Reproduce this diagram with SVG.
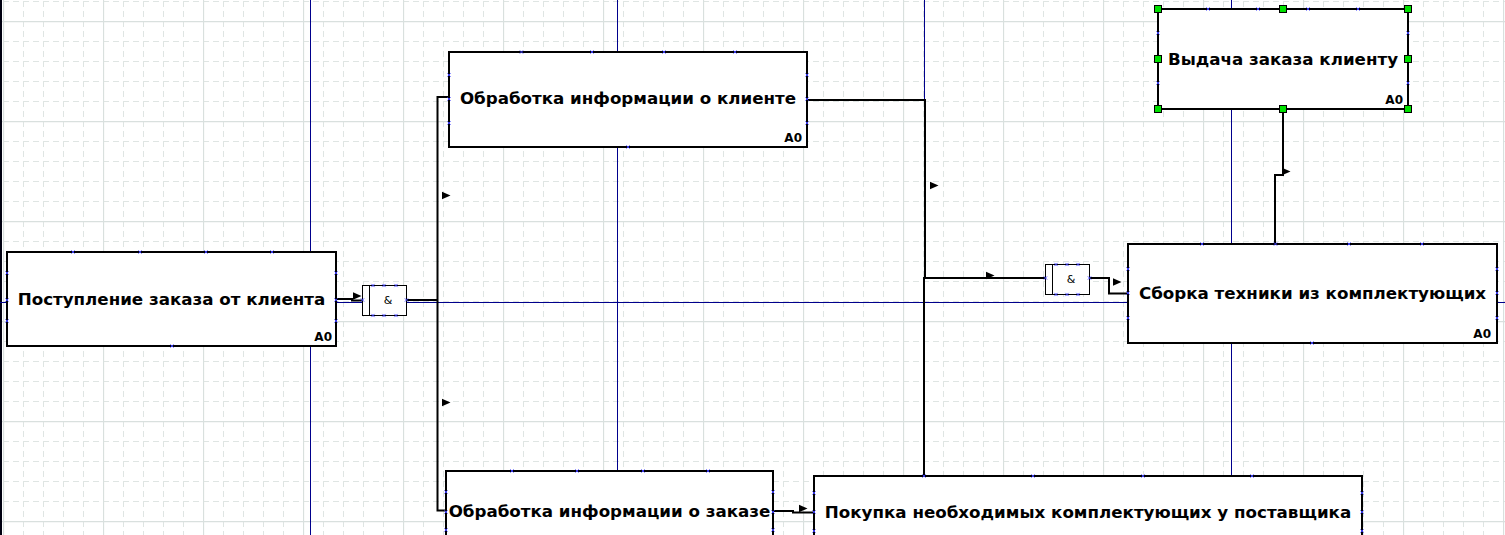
<svg xmlns="http://www.w3.org/2000/svg" xmlns:xlink="http://www.w3.org/1999/xlink" width="1505" height="535" viewBox="0 0 1505 535">
  <style>
    .box { fill: #ffffff; stroke: #000000; stroke-width: 2; }
    .jbox { fill: #ffffff; stroke: #000000; stroke-width: 1; }
    .title { font-family: "DejaVu Sans", "Noto Sans", sans-serif; font-weight: bold; font-size: 16.7px; fill: #000000; text-anchor: middle; }
    .num { font-family: "DejaVu Sans", "Noto Sans", sans-serif; font-weight: bold; font-size: 12px; fill: #000000; text-anchor: end; }
    .amp { font-family: "DejaVu Sans", "Noto Sans", sans-serif; font-size: 11px; fill: #000000; text-anchor: middle; }
    .link { fill: none; stroke: #000000; stroke-width: 2; }
    .page { stroke: #00008c; stroke-width: 1; fill: none; }
    .handle { fill: #00e000; stroke: #000000; stroke-width: 1; }
  </style>
  <defs>
    <!-- minor grid: dashed lines every 20 px -->
    <pattern id="gridMinor" patternUnits="userSpaceOnUse" x="3" y="1" width="20" height="20">
      <line x1="0.5" y1="0" x2="0.5" y2="20" stroke="#dfe5e3" stroke-width="1" stroke-dasharray="6,4"/>
      <line x1="0" y1="0.5" x2="20" y2="0.5" stroke="#dfe5e3" stroke-width="1" stroke-dasharray="6,4"/>
    </pattern>
    <!-- major grid: solid lines every 100 px -->
    <pattern id="gridMajor" patternUnits="userSpaceOnUse" x="3" y="21" width="100" height="100">
      <line x1="0.5" y1="0" x2="0.5" y2="100" stroke="#d9e0de" stroke-width="1.3"/>
      <line x1="0" y1="0.5" x2="100" y2="0.5" stroke="#d9e0de" stroke-width="1.3"/>
    </pattern>
    <!-- connection port mark -->
    <path id="port" d="M-1.6,-1.6 L1.6,1.6 M-1.6,1.6 L1.6,-1.6" stroke="#3c3cff" stroke-width="0.9" fill="none"/>
    <!-- flow arrowhead (points right) -->
    <polygon id="arrow" points="0,-3.8 0,3.8 8.5,0" fill="#000000"/>
    <!-- selection handle -->
    <rect id="grip" class="handle" x="-3.5" y="-3.5" width="7" height="7"/>
  </defs>

  <!-- canvas -->
  <rect x="0" y="0" width="1505" height="535" fill="#ffffff"/>
  <rect x="0" y="0" width="1505" height="535" fill="url(#gridMinor)"/>
  <rect x="0" y="0" width="1505" height="535" fill="url(#gridMajor)"/>
  <rect x="0" y="0" width="2" height="535" fill="#000010"/>

  <!-- page borders -->
  <g id="pages">
    <line class="page" x1="310.5" y1="0" x2="310.5" y2="535"/>
    <line class="page" x1="617.5" y1="0" x2="617.5" y2="535"/>
    <line class="page" x1="924.5" y1="0" x2="924.5" y2="535"/>
    <line class="page" x1="1231.5" y1="0" x2="1231.5" y2="535"/>
    <line class="page" x1="0" y1="302.5" x2="1505" y2="302.5"/>
  </g>

  <!-- connectors -->
  <g id="connectors">
    <path class="link" d="M336,299 H352 V300.5 H362"/>
    <path class="link" d="M407,300 H437.5"/>
    <path class="link" d="M449,97 H437.5 V510.5 H446"/>
    <path class="link" d="M807,100 H925 V278"/>
    <path class="link" d="M924,476 V278 H1046"/>
    <path class="link" d="M1089,278 H1109 V293.5 H1128"/>
    <path class="link" d="M1283,109 V175 H1275 V244"/>
    <path class="link" d="M773,511 H793 V512.5 H814"/>
    <use href="#arrow" x="353" y="296"/>
    <use href="#arrow" x="442" y="195.5"/>
    <use href="#arrow" x="442" y="402.5"/>
    <use href="#arrow" x="930" y="185.5"/>
    <use href="#arrow" x="986" y="275.5"/>
    <use href="#arrow" x="1113" y="282"/>
    <use href="#arrow" x="1282" y="171.5"/>
    <use href="#arrow" x="799" y="508.5"/>
  </g>

  <!-- process: Поступление заказа от клиента -->
  <g id="node-order-received">
    <rect class="box" x="7" y="252" width="329" height="94"/>
    <text class="title" x="171.5" y="305">Поступление заказа от клиента</text>
    <text class="num" x="332" y="341">A0</text>
    <use href="#port" x="73" y="252"/><use href="#port" x="140" y="252"/>
    <use href="#port" x="206" y="252"/><use href="#port" x="272" y="252"/>
    <use href="#port" x="7" y="273"/><use href="#port" x="7" y="300"/><use href="#port" x="7" y="321"/>
    <use href="#port" x="336" y="273"/><use href="#port" x="336" y="300"/><use href="#port" x="336" y="321"/>
    <use href="#port" x="172" y="346"/>
  </g>

  <!-- AND junction 1 -->
  <g id="junction-and-1">
    <rect class="jbox" x="362.5" y="285.5" width="44" height="30"/>
    <line x1="369.5" y1="285.5" x2="369.5" y2="315.5" stroke="#000" stroke-width="1"/>
    <text class="amp" x="388" y="304">&amp;</text>
    <use href="#port" x="373" y="285.5"/><use href="#port" x="384" y="285.5"/><use href="#port" x="396" y="285.5"/>
    <use href="#port" x="373" y="315.5"/><use href="#port" x="384" y="315.5"/><use href="#port" x="396" y="315.5"/>
    <use href="#port" x="362.5" y="300"/><use href="#port" x="406.5" y="300"/>
  </g>

  <!-- process: Обработка информации о клиенте -->
  <g id="node-client-info">
    <rect class="box" x="449" y="52" width="358" height="95"/>
    <text class="title" x="628" y="104">Обработка информации о клиенте</text>
    <text class="num" x="802" y="142">A0</text>
    <use href="#port" x="521.5" y="52"/><use href="#port" x="592" y="52"/>
    <use href="#port" x="664" y="52"/><use href="#port" x="735" y="52"/>
    <use href="#port" x="449" y="75"/><use href="#port" x="449" y="99"/><use href="#port" x="449" y="123"/>
    <use href="#port" x="807" y="75"/><use href="#port" x="807" y="99"/><use href="#port" x="807" y="123"/>
    <use href="#port" x="628" y="147"/>
  </g>

  <!-- process: Обработка информации о заказе -->
  <g id="node-order-info">
    <rect class="box" x="446" y="471" width="327" height="82"/>
    <text class="title" x="609.5" y="517">Обработка информации о заказе</text>
    <use href="#port" x="512" y="471"/><use href="#port" x="577" y="471"/>
    <use href="#port" x="643" y="471"/><use href="#port" x="708" y="471"/>
    <use href="#port" x="446" y="492"/><use href="#port" x="446" y="512"/><use href="#port" x="446" y="530"/>
    <use href="#port" x="773" y="492"/><use href="#port" x="773" y="512"/><use href="#port" x="773" y="530"/>
  </g>

  <!-- process: Покупка необходимых комплектующих у поставщика -->
  <g id="node-purchase">
    <rect class="box" x="814" y="476" width="548" height="76"/>
    <text class="title" x="1088" y="518">Покупка необходимых комплектующих у поставщика</text>
    <use href="#port" x="924" y="476"/><use href="#port" x="1033" y="476"/>
    <use href="#port" x="1143" y="476"/><use href="#port" x="1252" y="476"/>
    <use href="#port" x="814" y="493"/><use href="#port" x="814" y="512"/><use href="#port" x="814" y="531"/>
    <use href="#port" x="1362" y="493"/><use href="#port" x="1362" y="512"/><use href="#port" x="1362" y="531"/>
  </g>

  <!-- AND junction 2 -->
  <g id="junction-and-2">
    <rect class="jbox" x="1045.5" y="264.5" width="44" height="30"/>
    <line x1="1052.5" y1="264.5" x2="1052.5" y2="294.5" stroke="#000" stroke-width="1"/>
    <text class="amp" x="1071" y="282.5">&amp;</text>
    <use href="#port" x="1056" y="264.5"/><use href="#port" x="1067" y="264.5"/><use href="#port" x="1078" y="264.5"/>
    <use href="#port" x="1056" y="294.5"/><use href="#port" x="1067" y="294.5"/><use href="#port" x="1078" y="294.5"/>
    <use href="#port" x="1045.5" y="278"/><use href="#port" x="1089.5" y="278"/>
  </g>

  <!-- process: Сборка техники из комплектующих -->
  <g id="node-assembly">
    <rect class="box" x="1128" y="244" width="369" height="99"/>
    <text class="title" x="1312.5" y="299">Сборка техники из комплектующих</text>
    <text class="num" x="1491" y="338">A0</text>
    <use href="#port" x="1202" y="244"/><use href="#port" x="1275.5" y="244"/>
    <use href="#port" x="1349" y="244"/><use href="#port" x="1422" y="244"/>
    <use href="#port" x="1128" y="269"/><use href="#port" x="1128" y="293"/><use href="#port" x="1128" y="318"/>
    <use href="#port" x="1497" y="269"/><use href="#port" x="1497" y="293"/><use href="#port" x="1497" y="318"/>
    <use href="#port" x="1312" y="343"/>
  </g>

  <!-- process: Выдача заказа клиенту (selected) -->
  <g id="node-delivery">
    <rect class="box" x="1158" y="9" width="250" height="100"/>
    <text class="title" x="1283" y="65">Выдача заказа клиенту</text>
    <text class="num" x="1403" y="104">A0</text>
    <use href="#port" x="1208" y="9"/><use href="#port" x="1258" y="9"/>
    <use href="#port" x="1308" y="9"/><use href="#port" x="1358" y="9"/>
    <use href="#port" x="1158" y="33"/><use href="#port" x="1158" y="83"/>
    <use href="#port" x="1408" y="33"/><use href="#port" x="1408" y="83"/>
    <use href="#grip" x="1158" y="9"/><use href="#grip" x="1283" y="9"/><use href="#grip" x="1408" y="9"/>
    <use href="#grip" x="1158" y="59"/><use href="#grip" x="1408" y="59"/>
    <use href="#grip" x="1158" y="109"/><use href="#grip" x="1283" y="109"/><use href="#grip" x="1408" y="109"/>
  </g>
</svg>
